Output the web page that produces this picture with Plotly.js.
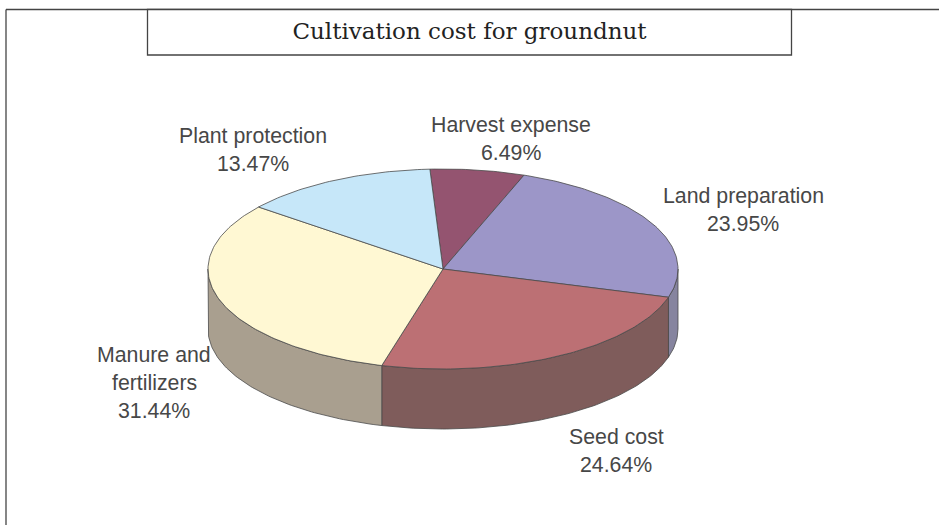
<!DOCTYPE html>
<html><head><meta charset="utf-8">
<script src="https://cdn.plot.ly/plotly-3.0.1.min.js"></script>
<style>html,body{margin:0;padding:0;background:#fff}#c{width:939px;height:525px}</style>
</head><body><div id="c"></div>
<script>
const chartTitle = "Cultivation cost for groundnut";
const categories = ["Harvest expense","Land preparation","Seed cost","Manure and fertilizers","Plant protection"];
const shares = [6.49,23.95,24.64,31.44,13.47];
const topColors = ["#945470","#9c96c8","#bc7074","#fff8d3","#c6e7f9"];
const sideColors = ["#6f3f54","#86849f","#7f5c5b","#a99f8f","#94adbb"];
const labelLines = [["Harvest expense"],["Land preparation"],["Seed cost"],["Manure and","fertilizers"],["Plant protection"]];
const labelAnchors = [[511,125],[743,196],[616,437],[154,355],[253,136]];

const cx=443, cy=269, rx=235, ry=100, depth=60, startDeg=-3.2, outline="#4a4a4a";
const px=(d)=>cx+rx*Math.sin(d*Math.PI/180);
const py=(d,off)=>cy-ry*Math.cos(d*Math.PI/180)+(off||0);
const total=shares.reduce((a,b)=>a+b,0);
function arc(a,b,off){const n=Math.max(2,Math.ceil(Math.abs(b-a)));const xs=[],ys=[];
  for(let i=0;i<=n;i++){const d=a+(b-a)*i/n;xs.push(px(d));ys.push(py(d,off));}return [xs,ys];}

const sideTraces=[], topTraces=[];
let ang=startDeg;
shares.forEach((v,i)=>{
  const a=ang,b=ang+v/total*360;ang=b;
  const lo=Math.max(a,90),hi=Math.min(b,270);
  if(hi>lo){
    const t=arc(lo,hi,0),u=arc(hi,lo,depth);
    sideTraces.push({type:"scatter",mode:"lines",fill:"toself",fillcolor:sideColors[i],
      x:t[0].concat(u[0],[t[0][0]]),y:t[1].concat(u[1],[t[1][0]]),
      line:{color:outline,width:0.8},name:categories[i],hoverinfo:"name"});
  }
  const t=arc(a,b,0);
  topTraces.push({type:"scatter",mode:"lines",fill:"toself",fillcolor:topColors[i],
    x:[cx].concat(t[0],[cx]),y:[cy].concat(t[1],[cy]),
    line:{color:outline,width:0.8},name:categories[i],text:v+"%",hoverinfo:"name+text"});
});

const annotations=[];
const labelFont={family:"Liberation Sans, Arial, sans-serif",size:21.3,color:"#474747"};
categories.forEach((c,i)=>{
  const lines=labelLines[i].concat([shares[i].toFixed(2)+"%"]);
  lines.forEach((s,j)=>annotations.push({x:labelAnchors[i][0],y:labelAnchors[i][1]+j*28,xref:"x",yref:"y",
    text:s,showarrow:false,xanchor:"center",yanchor:"middle",font:labelFont}));
});

const frame={color:"#444",width:1.3};
const layout={width:939,height:525,margin:{l:0,r:0,t:0,b:0},paper_bgcolor:"#fff",plot_bgcolor:"#fff",
  showlegend:false,
  title:{text:chartTitle,x:469.5/939,xanchor:"center",y:1-31/525,yanchor:"middle",
    font:{family:"DejaVu Serif, serif",size:23,color:"#222"}},
  xaxis:{range:[0,939],visible:false,fixedrange:true},
  yaxis:{range:[525,0],visible:false,fixedrange:true},
  annotations,
  shapes:[
    {type:"line",xref:"x",yref:"y",x0:6,y0:9.5,x1:939,y1:9.5,line:frame},
    {type:"line",xref:"x",yref:"y",x0:6,y0:9.5,x1:6,y1:525,line:frame},
    {type:"rect",xref:"x",yref:"y",x0:147.5,y0:9.5,x1:791.5,y1:55,line:frame,fillcolor:"#fff"}
  ]};
Plotly.newPlot("c",sideTraces.concat(topTraces),layout,{displayModeBar:false,staticPlot:true});
</script></body></html>
